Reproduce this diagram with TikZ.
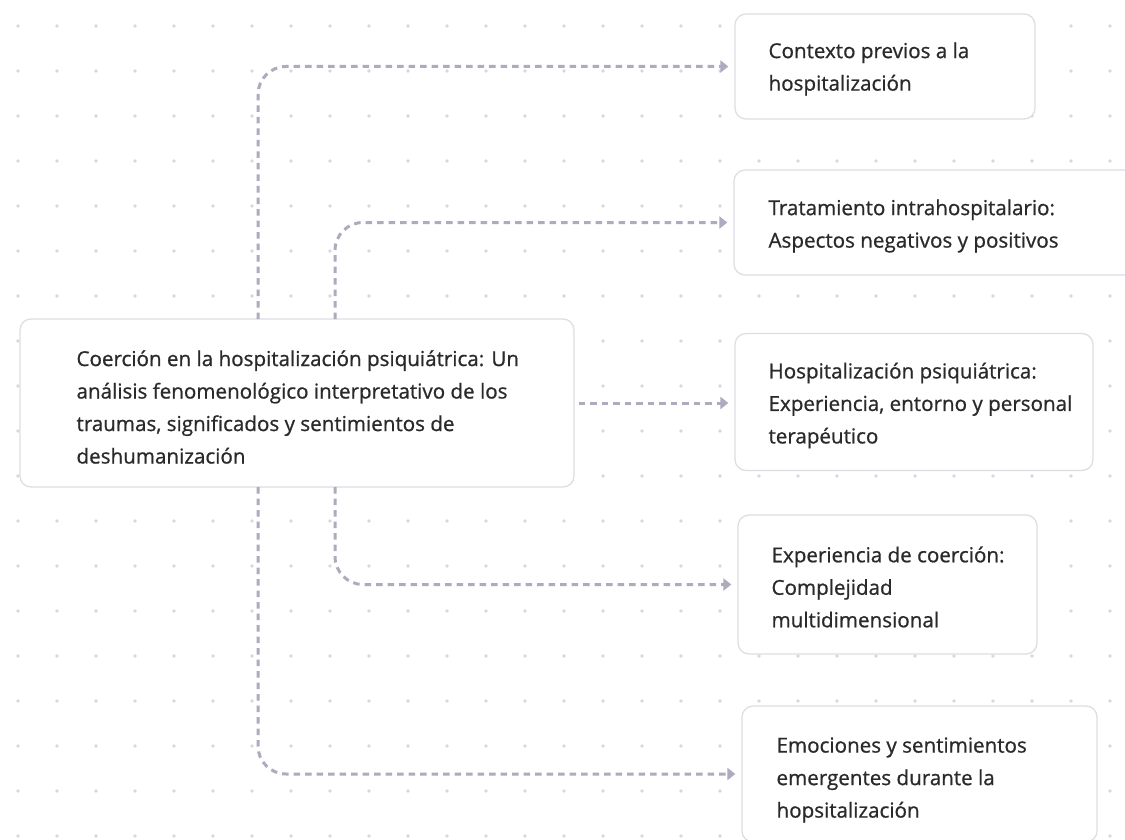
\documentclass[tikz,border=0pt]{standalone}
\usepackage{fontspec}
\setmainfont[FakeBold=0.8]{Open Sans}
\usetikzlibrary{arrows.meta}
\definecolor{dotc}{RGB}{216,216,220}
\definecolor{linec}{RGB}{172,172,190}
\definecolor{boxc}{RGB}{222,222,228}
\definecolor{txtc}{RGB}{42,42,42}
\tikzset{
  box/.style={draw=boxc, line width=1.3pt, rounded corners=11pt, fill=white, inner sep=0pt},
  lbl/.style={anchor=west, align=left, text=txtc, inner sep=0pt,
    font=\fontsize{20.6}{32.5}\selectfont},
  conn/.style={draw=linec, line width=3pt, dash pattern=on 6.5pt off 5pt,
    rounded corners=28pt, -{Triangle[length=8pt,width=12pt]}, shorten >=6pt}
}
\begin{document}
\begin{tikzpicture}[x=1pt,y=-1pt]
\useasboundingbox (0,0) rectangle (1125,840);
\clip (0,0) rectangle (1125,840);
\fill[white] (0,0) rectangle (1125,840);
% dot grid
\foreach \i in {0,...,28} {
  \foreach \j in {0,...,18} {
    \fill[dotc] ({18+39*\i},{26+45*\j}) circle (1.9pt);
  }
}
% boxes
\node[box, minimum width=554pt, minimum height=168pt] (c) at (297,403) {};
\node[box, minimum width=300pt, minimum height=105pt] (b1) at (885,66.5) {};
\node[box, minimum width=402pt, minimum height=105pt] (b2) at (935,222.5) {};
\node[box, minimum width=358pt, minimum height=137pt] (b3) at (914,402) {};
\node[box, minimum width=299pt, minimum height=139pt] (b4) at (887.5,584.5) {};
\node[box, minimum width=355pt, minimum height=136pt] (b5) at (919.5,774) {};
% texts
\node[lbl] (tc) at ([xshift=57pt,yshift=-4pt]c.west) {Coerción en la hospitalización psiquiátrica: Un\\análisis fenomenológico interpretativo de los\\traumas, significados y sentimientos de\\deshumanización};
\node[lbl] (t1) at ([xshift=34pt,yshift=-2.5pt]b1.west) {Contexto previos a la\\hospitalización};
\node[lbl] (t2) at ([xshift=35pt,yshift=-3.5pt]b2.west) {Tratamiento intrahospitalario:\\Aspectos negativos y positivos};
\node[lbl] (t3) at ([xshift=34pt,yshift=-3.5pt]b3.west) {Hospitalización psiquiátrica:\\Experiencia, entorno y personal\\terapéutico};
\node[lbl] (t4) at ([xshift=34pt,yshift=-2.5pt]b4.west) {Experiencia de coerción:\\Complejidad\\multidimensional};
\node[lbl] (t5) at ([xshift=35pt,yshift=-6pt]b5.west) {Emociones y sentimientos\\emergentes durante la\\hopsitalización};
% connectors
\coordinate (s1) at (258,319);
\coordinate (s2) at (335,319);
\coordinate (s4) at (335,487);
\coordinate (s5) at (258,487);
\draw[conn] (s1) |- (b1.west);
\draw[conn] (s2) |- (b2.west);
\draw[conn, shorten <=4pt] (c.east) -- (c.east -| b3.west);
\draw[conn] (s4) |- (b4.west);
\draw[conn] (s5) |- (b5.west);
\end{tikzpicture}
\end{document}
